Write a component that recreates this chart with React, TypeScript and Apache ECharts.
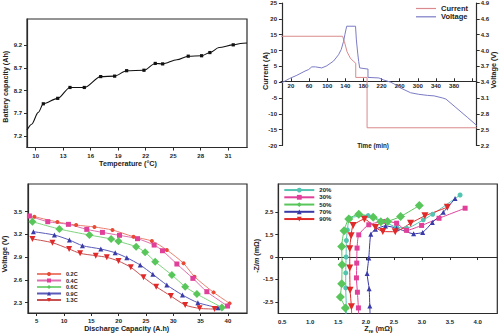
import React, { useEffect, useRef } from "react";
import * as echarts from "echarts";

const FONT = "'Liberation Sans', Arial, sans-serif";
const AX = "#2b2b2b";

// ---------- Panel A: capacity vs temperature ----------
const tempC = [9.05, 9.56, 10.28, 10.83, 12.4, 13.74, 15.3, 17.09, 18.61, 19.92, 21.81, 23.04, 23.85, 25.4, 26.64, 28.1, 29.0, 30.0, 31.55, 32.35, 33.05];
const capacityAh = [7.33, 7.46, 7.72, 7.91, 8.03, 8.27, 8.27, 8.51, 8.52, 8.64, 8.65, 8.8, 8.79, 8.88, 8.96, 8.97, 9.04, 9.15, 9.21, 9.24, 9.25];
const capacityMarked = [0, 0, 0, 1, 1, 1, 1, 1, 1, 1, 1, 1, 1, 0, 1, 1, 1, 0, 1, 0, 0];
const tempTicks = [10, 13, 16, 19, 22, 25, 28, 31];
const capacityTicks = [7.2, 7.7, 8.2, 8.7, 9.2];

// ---------- Panel B: current / voltage vs time ----------
const currentTime = [-2, 134, 138, 143.8, 151, 158.5, 163, 163, 188, 188, 430];
const currentA = [14.5, 14.5, 12.8, 9.6, 7.6, 6.5, 6.0, 1.5, 1.5, -14.4, -14.4];
const voltTime = [0, 17, 33, 51, 59, 66, 74, 88, 99, 114, 125, 131, 136, 139, 143, 162.5, 164.4, 167.3, 169.5, 171.7, 188, 190, 190, 214, 225, 240, 247, 262, 284, 302, 321, 336, 355, 362, 384, 410, 430];
const voltV = [3.39, 3.47, 3.53, 3.61, 3.64, 3.69, 3.69, 3.67, 3.71, 3.8, 3.92, 4.02, 4.17, 4.3, 4.46, 4.46, 4.2, 3.95, 3.79, 3.67, 3.65, 3.65, 3.49, 3.48, 3.44, 3.4, 3.37, 3.29, 3.2, 3.17, 3.15, 3.14, 3.1, 3.08, 2.92, 2.73, 2.58];
const timeTicks = [20, 60, 100, 140, 180, 220, 260, 300, 340, 380, 420];
const timeLabels = [20, 60, 100, 140, 180, 220, 260, 300, 340, 380];
const currentTicks = [-20, -15, -10, -5, 0, 5, 10, 15, 20, 25];
const voltTicks = [2.2, 2.5, 2.8, 3.1, 3.4, 3.7, 4.0, 4.3, 4.6, 4.9];

// ---------- Panel C: discharge curves ----------
const rateNames = ["0.2C", "0.4C", "0.6C", "0.9C", "1.3C"];
const cap02 = [4.57, 8.79, 12.21, 15.57, 18.87, 22.72, 26.08, 28.82, 31.88, 33.89, 37.38, 40.31];
const volt02 = [3.434, 3.364, 3.324, 3.298, 3.258, 3.17, 3.113, 2.995, 2.819, 2.643, 2.436, 2.291];
const cap04 = [3.66, 7.02, 10.8, 14.16, 17.03, 20.15, 23.45, 26.5, 28.03, 30.66, 33.59, 36.15, 39.94];
const volt04 = [3.443, 3.368, 3.333, 3.267, 3.227, 3.188, 3.144, 3.06, 2.985, 2.81, 2.621, 2.445, 2.256];
const cap06 = [4.21, 9.15, 14.65, 18.62, 19.97, 23.2, 24.85, 26.69, 29.74, 32.18, 34.32, 38.9];
const volt06 = [3.368, 3.271, 3.192, 3.14, 3.109, 3.038, 2.964, 2.841, 2.665, 2.511, 2.414, 2.238];
const cap09 = [4.39, 8.24, 10.99, 13.37, 16.73, 19.36, 21.49, 23.94, 26.26, 28.82, 31.69, 34.51, 38.17];
const volt09 = [3.236, 3.192, 3.126, 3.052, 3.008, 2.959, 2.893, 2.797, 2.674, 2.533, 2.401, 2.3, 2.234];
const cap13 = [4.21, 7.87, 10.93, 12.94, 15.81, 17.83, 19.97, 22.23, 24.55, 26.87, 29.56, 32.18, 34.81, 37.56];
const volt13 = [3.14, 3.091, 3.008, 2.951, 2.92, 2.898, 2.849, 2.766, 2.634, 2.511, 2.388, 2.269, 2.225, 2.216];
const capTicksC = [5, 10, 15, 20, 25, 30, 35, 40];
const voltTicksC = [2.3, 2.6, 2.9, 3.2, 3.5];

// ---------- Panel D: impedance (y in tick steps, labels below) ----------
const socNames = ["20%", "30%", "50%", "70%", "90%"];
const zre20 = [1.65, 1.649, 1.637, 1.637, 1.643, 1.649, 1.667, 1.709, 2.038, 2.307, 2.547, 2.726, 3.025, 3.193, 3.684];
const zim20 = [-2.52, -2.27, -1.38, -0.71, 0.0, 0.74, 1.21, 1.73, 1.85, 1.59, 1.33, 1.29, 1.66, 1.91, 2.77];
const zre30 = [1.866, 1.864, 1.846, 1.829, 1.834, 1.84, 1.87, 2.05, 2.361, 2.547, 2.726, 2.995, 3.307, 3.774];
const zim30 = [-2.52, -2.27, -1.57, -0.93, -0.27, 0.4, 0.99, 1.44, 1.59, 1.51, 1.19, 1.41, 1.73, 2.18];
const zre50 = [1.633, 1.631, 1.541, 1.565, 1.571, 1.565, 1.607, 1.691, 1.87, 2.128, 2.265, 2.385, 2.618, 2.954];
const zim50 = [-2.52, -2.27, -1.78, -1.19, -0.34, 0.47, 1.17, 1.7, 1.91, 1.78, 1.57, 1.59, 1.81, 2.3];
const zre70 = [2.072, 2.068, 2.056, 2.02, 2.05, 2.086, 2.17, 2.349, 2.547, 2.852, 3.014, 3.187, 3.384, 3.594];
const zim70 = [-2.52, -2.19, -1.41, -0.74, -0.04, 1.02, 1.24, 1.39, 1.29, 1.04, 1.1, 1.54, 2.0, 2.61];
const zre90 = [1.742, 1.739, 1.715, 1.709, 1.709, 1.733, 1.769, 1.972, 2.17, 2.301, 2.523, 2.798, 3.055, 3.456];
const zim90 = [-2.52, -2.22, -1.48, -0.49, 0.37, 0.95, 1.41, 1.69, 1.32, 1.14, 1.13, 1.51, 1.84, 2.22];
const zreTicks = [0.5, 1.0, 1.5, 2.0, 2.5, 3.0, 3.5, 4.0];
const zimTickPos = [-2, -1, 0, 1, 2];
const zimTickLabels = ["-2.5", "-1.5", "0", "1.5", "2.5"];

const DOWN_TRI = "path://M0,0L10,0L5,9Z";

const tickLabel = { fontSize: 6, fontWeight: "bold" as const, color: "#222", fontFamily: FONT };
const axLine = { show: true, lineStyle: { color: AX, width: 1.2 } };

function pairs(xs: number[], ys: number[]) {
  return xs.map((x, i) => [x, ys[i]]);
}
function pairsSkipFirst(xs: number[], ys: number[]) {
  return xs.map((x, i) => (i === 0 ? { value: [x, ys[i]], symbol: "none" } : [x, ys[i]]));
}

export default function App() {
  const ref = useRef<HTMLDivElement>(null);
  useEffect(() => {
    if (!ref.current) return;
    const chart = echarts.init(ref.current, undefined, { renderer: "svg" });

    const rateColors = ["#e84a36", "#e0409a", "#58c65a", "#3a3aa8", "#e02a2a"];
    const rateLine = ["#ec8070", "#e070b0", "#7ed47e", "#5a5ab8", "#c85050"];
    const rateSym = ["circle", "rect", "diamond", "triangle", DOWN_TRI];
    const rateSize = [4, 5, 8, 5, 6];
    const capData = [cap02, cap04, cap06, cap09, cap13];
    const voltData = [volt02, volt04, volt06, volt09, volt13];

    const socColors = ["#52c4b0", "#e0409a", "#58c65a", "#3a3aa8", "#e02a2a"];
    const socSym = ["circle", "rect", "diamond", "triangle", DOWN_TRI];
    const socSize = [5, 5, 9, 5, 7];
    const zreData = [zre20, zre30, zre50, zre70, zre90];
    const zimData = [zim20, zim30, zim50, zim70, zim90];

    const titleFont = `bold 7.2px ${FONT}`;

    // panel B grid geometry: zero of current axis sits inside the grid
    const gB = { left: 281, top: 1, width: 195.7, height: 144.5 };
    const curMin = -20, curMax = 25;
    const zeroOffset = -((0 - curMin) / (curMax - curMin)) * gB.height;

    const option: any = {
      animation: false,
      textStyle: { fontFamily: FONT },
      grid: [
        { left: 27, top: 19, width: 220, height: 128.5, show: true, borderColor: AX, borderWidth: 1.2, backgroundColor: "transparent" },
        gB,
        { left: 28, top: 184, width: 219, height: 129, show: true, borderColor: AX, borderWidth: 1.2, backgroundColor: "transparent" },
        { left: 278.3, top: 184, width: 219, height: 129.5, show: true, borderColor: AX, borderWidth: 1.2, backgroundColor: "transparent" },
      ],
      xAxis: [
        {
          gridIndex: 0, type: "value", min: 9.05, max: 33.05,
          axisLine: axLine, splitLine: { show: false },
          axisTick: { show: true, inside: false, length: 3, customValues: tempTicks, lineStyle: { color: AX } },
          axisLabel: { ...tickLabel, margin: 5, customValues: tempTicks },
        },
        {
          gridIndex: 1, type: "value", min: -2, max: 430, position: "bottom", offset: zeroOffset,
          axisLine: { show: true, onZero: false, lineStyle: { color: AX, width: 1.2 } }, splitLine: { show: false },
          axisTick: { show: true, inside: true, length: 3, customValues: timeTicks, lineStyle: { color: AX } },
          axisLabel: { ...tickLabel, margin: 2, customValues: timeLabels },
        },
        {
          gridIndex: 2, type: "value", min: 3.4, max: 43.5,
          axisLine: axLine, splitLine: { show: false },
          axisTick: { show: true, inside: false, length: 3, customValues: capTicksC, lineStyle: { color: AX } },
          axisLabel: { ...tickLabel, margin: 5, customValues: capTicksC },
        },
        {
          gridIndex: 3, type: "value", min: 0.43, max: 4.35,
          axisLine: axLine, splitLine: { show: false },
          axisTick: { show: true, inside: false, length: 3, customValues: zreTicks, lineStyle: { color: AX } },
          axisLabel: { ...tickLabel, margin: 5, customValues: zreTicks, formatter: (v: number) => v.toFixed(1) },
        },
      ],
      yAxis: [
        {
          gridIndex: 0, type: "value", min: 6.946, max: 9.78,
          axisLine: axLine, splitLine: { show: false },
          axisTick: { show: true, inside: false, length: 3, customValues: capacityTicks, lineStyle: { color: AX } },
          axisLabel: { ...tickLabel, margin: 5, customValues: capacityTicks, formatter: (v: number) => v.toFixed(1) },
        },
        {
          gridIndex: 1, type: "value", position: "left", min: curMin, max: curMax, interval: 5,
          axisLine: axLine, splitLine: { show: false },
          axisTick: { show: true, inside: false, length: 3, customValues: currentTicks, lineStyle: { color: AX } },
          axisLabel: { ...tickLabel, margin: 4, customValues: currentTicks },
        },
        {
          gridIndex: 1, type: "value", position: "right", min: 2.2, max: 4.9,
          axisLine: axLine, splitLine: { show: false },
          axisTick: { show: true, inside: false, length: 3, customValues: voltTicks, lineStyle: { color: AX } },
          axisLabel: { ...tickLabel, margin: 4, customValues: voltTicks, formatter: (v: number) => v.toFixed(1) },
        },
        {
          gridIndex: 2, type: "value", min: 2.164, max: 3.865,
          axisLine: axLine, splitLine: { show: false },
          axisTick: { show: true, inside: false, length: 3, customValues: voltTicksC, lineStyle: { color: AX } },
          axisLabel: { ...tickLabel, margin: 6, customValues: voltTicksC, formatter: (v: number) => v.toFixed(1) },
        },
        {
          gridIndex: 3, type: "value", min: -2.52, max: 3.26,
          axisLine: axLine, splitLine: { show: false },
          axisTick: { show: true, inside: false, length: 3, customValues: zimTickPos, lineStyle: { color: AX } },
          axisLabel: {
            ...tickLabel, margin: 5, customValues: zimTickPos,
            formatter: (v: number) => zimTickLabels[zimTickPos.indexOf(Math.round(v))] ?? "",
          },
        },
      ],
      legend: [
        {
          data: ["Current", "Voltage"], orient: "vertical", left: 416, top: 4.5,
          icon: "rect", itemWidth: 20, itemHeight: 1.2, itemGap: 0.3, padding: 0,
          textStyle: { fontSize: 7.5, lineHeight: 7.5, fontWeight: "bold", color: "#222", fontFamily: FONT },
        },
        {
          data: rateNames, orient: "vertical", left: 36, top: 271,
          itemWidth: 24, itemHeight: 5, itemGap: 0.5, padding: 0,
          textStyle: { fontSize: 5.5, lineHeight: 6, fontWeight: "bold", color: "#222", fontFamily: FONT },
        },
        {
          data: socNames, orient: "vertical", left: 283.3, top: 186.8,
          itemWidth: 30, itemHeight: 6, itemGap: 0.75, padding: 0,
          textStyle: { fontSize: 6, lineHeight: 6.5, fontWeight: "bold", color: "#222", fontFamily: FONT },
        },
      ],
      series: [
        {
          name: "Battery capacity", type: "line", xAxisIndex: 0, yAxisIndex: 0,
          smooth: 0.3, smoothMonotone: "x", symbol: "rect", symbolSize: 3.2,
          itemStyle: { color: "#111" }, lineStyle: { color: "#111", width: 1.1 },
          data: tempC.map((t, i) => (capacityMarked[i] ? [t, capacityAh[i]] : { value: [t, capacityAh[i]], symbol: "none" })),
        },
        {
          name: "Current", type: "line", xAxisIndex: 1, yAxisIndex: 1, symbol: "none",
          itemStyle: { color: "#d98a8c" }, lineStyle: { color: "#d98a8c", width: 1 },
          data: pairs(currentTime, currentA),
        },
        {
          name: "Voltage", type: "line", xAxisIndex: 1, yAxisIndex: 2, symbol: "none",
          itemStyle: { color: "#7c7cc6" }, lineStyle: { color: "#7c7cc6", width: 1 },
          data: pairs(voltTime, voltV),
        },
        ...rateNames.map((n, k) => ({
          name: n, type: "line", xAxisIndex: 2, yAxisIndex: 3, smooth: 0.25,
          symbol: rateSym[k], symbolSize: rateSize[k],
          itemStyle: { color: rateColors[k] }, lineStyle: { color: rateLine[k], width: 1 },
          data: pairs(capData[k], voltData[k]),
        })),
        ...socNames.map((n, k) => ({
          name: n, type: "line", xAxisIndex: 3, yAxisIndex: 4, smooth: 0.2,
          symbol: socSym[k], symbolSize: socSize[k],
          itemStyle: { color: socColors[k] }, lineStyle: { color: socColors[k], width: 1 },
          data: pairsSkipFirst(zreData[k], zimData[k]),
        })),
      ],
      graphic: [
        { type: "text", x: 5.5, y: 86.7, rotation: Math.PI / 2, style: { text: "Battery capacity (Ah)", font: titleFont, fill: "#222", textAlign: "center", textVerticalAlign: "middle", align: "center", verticalAlign: "middle" } },
        { type: "text", x: 128, y: 163.3, style: { text: "Temperature (°C)", font: titleFont, fill: "#222", textAlign: "center", textVerticalAlign: "middle", align: "center", verticalAlign: "middle" } },
        { type: "text", x: 265.8, y: 71, rotation: Math.PI / 2, style: { text: "Current (A)", font: titleFont, fill: "#222", textAlign: "center", textVerticalAlign: "middle", align: "center", verticalAlign: "middle" } },
        { type: "text", x: 493.3, y: 70, rotation: Math.PI / 2, style: { text: "Voltage (V)", font: titleFont, fill: "#222", textAlign: "center", textVerticalAlign: "middle", align: "center", verticalAlign: "middle" } },
        { type: "text", x: 373, y: 145.7, style: { text: "Time (min)", font: `bold 6.3px ${FONT}`, fill: "#222", textAlign: "center", textVerticalAlign: "middle", align: "center", verticalAlign: "middle" } },
        { type: "text", x: 4.5, y: 254, rotation: Math.PI / 2, style: { text: "Voltage (V)", font: titleFont, fill: "#222", textAlign: "center", textVerticalAlign: "middle", align: "center", verticalAlign: "middle" } },
        { type: "text", x: 126.7, y: 328.5, style: { text: "Discharge Capacity (A.h)", font: titleFont, fill: "#222", textAlign: "center", textVerticalAlign: "middle", align: "center", verticalAlign: "middle" } },
        {
          type: "text", x: 256.3, y: 255.8, rotation: Math.PI / 2,
          style: {
            text: "{a|-Z}{i|im}{a| (mΩ)}", fill: "#222", textAlign: "center", textVerticalAlign: "middle", align: "center", verticalAlign: "middle",
            rich: {
              a: { fontSize: 7.2, fontWeight: "bold", fontFamily: FONT, fill: "#222", color: "#222" },
              i: { fontSize: 7.2, fontWeight: "bold", fontStyle: "italic", fontFamily: FONT, fill: "#222", color: "#222" },
            },
          },
        },
        {
          type: "text", x: 378.3, y: 328.5,
          style: {
            text: "{a|Z}{b|re}{a| (mΩ)}", fill: "#222", textAlign: "center", textVerticalAlign: "middle", align: "center", verticalAlign: "middle",
            rich: {
              a: { fontSize: 7.2, fontWeight: "bold", fontFamily: FONT, lineHeight: 9, fill: "#222", color: "#222" },
              b: { fontSize: 5, fontWeight: "bold", fontFamily: FONT, lineHeight: 5, verticalAlign: "bottom", fill: "#222", color: "#222" },
            },
          },
        },
      ],
    };
    chart.setOption(option);
    return () => chart.dispose();
  }, []);
  return (
    <div
      ref={ref}
      style={{ position: "fixed", left: 0, top: 0, width: 500, height: 334, background: "#fff" }}
    />
  );
}
